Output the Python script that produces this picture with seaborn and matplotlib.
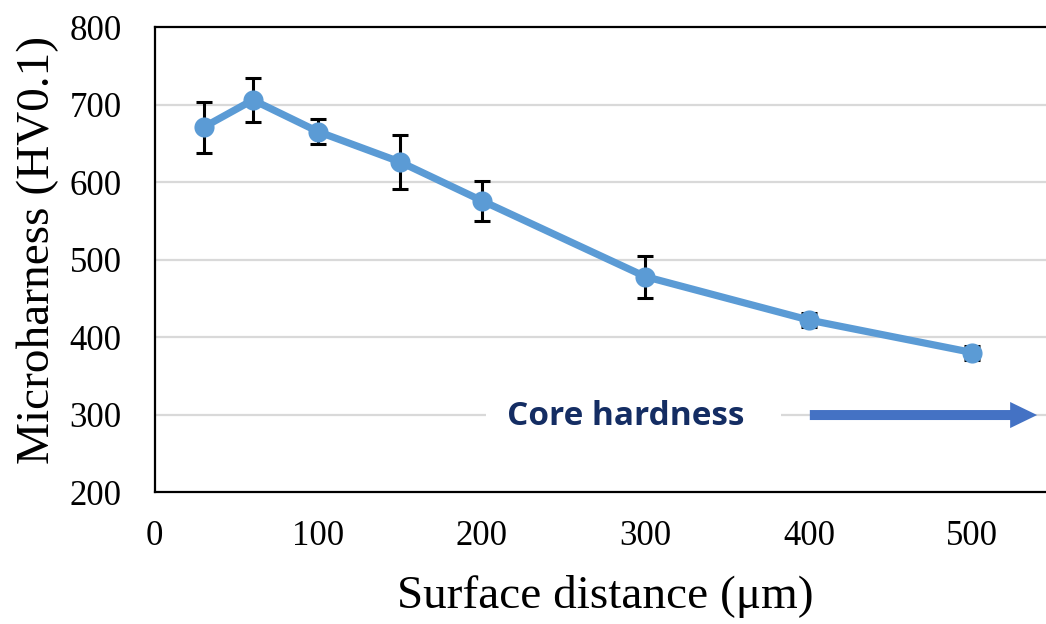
import pandas as pd
import numpy as np
import matplotlib
matplotlib.use("Agg")
import matplotlib.pyplot as plt
from matplotlib.patches import FancyArrowPatch
import seaborn as sns

# Hardness profile values
distance = [30, 60, 100, 150, 200, 300, 400, 500]
hardness = [671, 706, 665, 626, 576, 478, 422, 380]
hardness_err = [33, 29, 16, 35, 26, 27, 9, 9]
y_ticks = [200, 300, 400, 500, 600, 700, 800]
x_ticks = [0, 100, 200, 300, 400, 500]

df = pd.DataFrame({"Distance": distance, "Hardness": hardness, "Err": hardness_err})

sns.set_style("white")
plt.rcParams["font.family"] = ["Liberation Serif", "DejaVu Serif"]

fig = plt.figure(figsize=(10.46, 6.24), dpi=100)
ax = fig.add_axes([0.148, 0.2115, 0.852, 0.745])

# horizontal grid lines
for yv in y_ticks[1:-1]:
    ax.axhline(yv, color="#d9d9d9", linewidth=1.6, zorder=0)

# error bars first so the markers sit on top
ax.errorbar(df["Distance"], df["Hardness"], yerr=df["Err"], fmt="none",
            ecolor="black", elinewidth=2.2, capsize=6, capthick=2.2, zorder=2)

sns.lineplot(data=df, x="Distance", y="Hardness", ax=ax, color="#5b9bd5",
             linewidth=5.2, marker="o", markersize=14.5, markeredgewidth=0,
             zorder=3)

ax.set_xlim(0, 545)
ax.set_ylim(200, 800)
ax.set_xticks(x_ticks)
ax.set_yticks(y_ticks)
ax.tick_params(axis="both", length=0, labelsize=25, labelcolor="black")
ax.tick_params(axis="y", pad=24)
ax.tick_params(axis="x", pad=20)

for side in ["left", "bottom", "top"]:
    ax.spines[side].set_color("black")
    ax.spines[side].set_linewidth(1.6)
ax.spines["right"].set_visible(False)

ax.set_xlabel("Surface distance (μm)", fontsize=34, color="black")
ax.set_ylabel("Microharness (HV0.1)", fontsize=34, color="black")
ax.xaxis.set_label_coords(0.505, -0.225)
ax.xaxis.label.set_va("center")
ax.yaxis.set_label_coords(-0.131, 0.52)
ax.yaxis.label.set_va("center")

# "Core hardness" annotation with arrow
ax.add_patch(plt.Rectangle((0.372, 0.125), 0.331, 0.08, transform=ax.transAxes,
                           facecolor="white", edgecolor="none", zorder=1))
ax.text(0.395, 0.162, "Core hardness", transform=ax.transAxes,
        fontsize=24, fontweight="bold", color="#142d63",
        family=["Open Sans", "DejaVu Sans"], ha="left", va="center", zorder=4)
arrow = FancyArrowPatch((0.735, 0.1656), (0.99, 0.1656), transform=ax.transAxes,
                        arrowstyle="simple,head_length=0.97,head_width=0.94,tail_width=0.36",
                        mutation_scale=20, color="#4472c4", linewidth=0,
                        shrinkA=0, shrinkB=0, zorder=4)
ax.add_patch(arrow)

fig.savefig("out.png", dpi=100)
